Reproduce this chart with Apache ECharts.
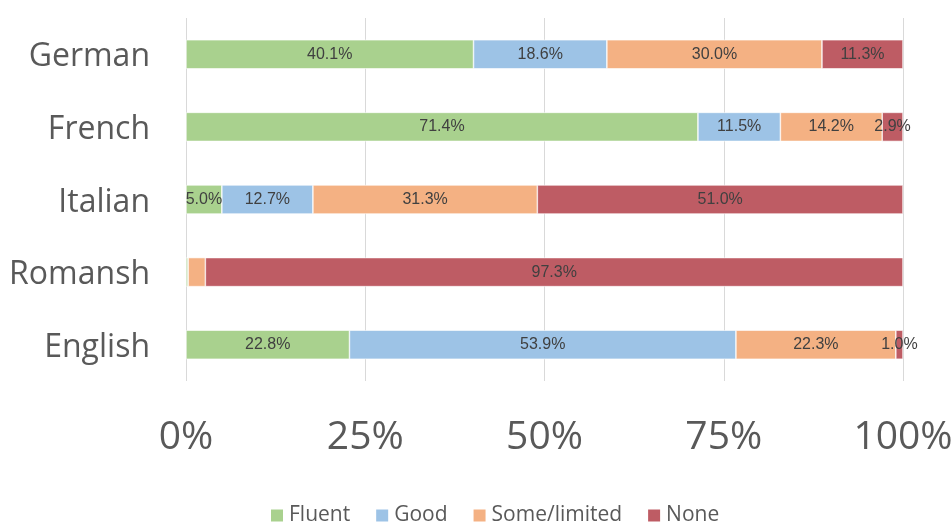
<!DOCTYPE html>
<html><head><meta charset="utf-8">
<script src="https://cdn.jsdelivr.net/npm/echarts@6/dist/echarts.min.js"></script>
<style>html,body{margin:0;padding:0;background:#fff}#c{width:952px;height:523px}</style>
</head><body><div id="c"></div>
<script>
const categories = ['German', 'French', 'Italian', 'Romansh', 'English'];
const seriesNames = ['Fluent', 'Good', 'Some/limited', 'None'];
const fluent = [40.1, 71.4, 5.0, 0.3, 22.8];
const good = [18.6, 11.5, 12.7, 0.0, 53.9];
const someLimited = [30.0, 14.2, 31.3, 2.4, 22.3];
const none = [11.3, 2.9, 51.0, 97.3, 1.0];
const tickLabels = ['0%', '25%', '50%', '75%', '100%'];
const colors = ['#a9d18e', '#9dc3e6', '#f4b183', '#be5c64'];
const hiddenLabels = {'Romansh': [0, 1, 2]};

const values = [fluent, good, someLimited, none];
const chart = echarts.init(document.getElementById('c'));
const series = values.map((arr, si) => ({
  name: seriesNames[si],
  type: 'bar',
  stack: 'total',
  barWidth: '40%',
  itemStyle: {color: colors[si], borderColor: '#fff', borderWidth: 0.6},
  label: {
    show: true, position: 'inside', color: '#404040', fontSize: 16,
    fontFamily: 'Liberation Sans, Arial, sans-serif',
    formatter: p => p.value.toFixed(1) + '%'
  },
  labelLayout: {hideOverlap: false},
  data: arr.map((v, ci) => {
    const hide = (hiddenLabels[categories[ci]] || []).includes(si);
    return hide ? {value: v, label: {show: false}} : v;
  })
}));
chart.setOption({
  animation: false,
  color: colors,
  grid: {left: 186, right: 49, top: 18, bottom: 142, containLabel: false, outerBoundsMode: 'none'},
  xAxis: {
    type: 'value', min: 0, max: 100, interval: 25,
    axisLine: {show: false}, axisTick: {show: false},
    splitLine: {lineStyle: {color: '#d9d9d9', width: 1}},
    axisLabel: {
      color: '#595959', fontSize: 39, margin: 37,
      fontFamily: 'Open Sans, Liberation Sans, sans-serif',
      formatter: v => tickLabels[Math.round(v / 25)]
    }
  },
  yAxis: {
    type: 'category', data: categories, inverse: true,
    axisLine: {show: false}, axisTick: {show: false},
    axisLabel: {
      color: '#595959', fontSize: 32, margin: 36,
      verticalAlign: 'top', lineHeight: 6,
      fontFamily: 'Open Sans, Liberation Sans, sans-serif'
    }
  },
  legend: {
    data: seriesNames, top: 500, left: 264,
    itemWidth: 14, itemHeight: 14, itemGap: 24,
    icon: 'rect',
    textStyle: {color: '#595959', fontSize: 21, fontFamily: 'Open Sans, Liberation Sans, sans-serif'}
  },
  series: series
});
</script></body></html>
